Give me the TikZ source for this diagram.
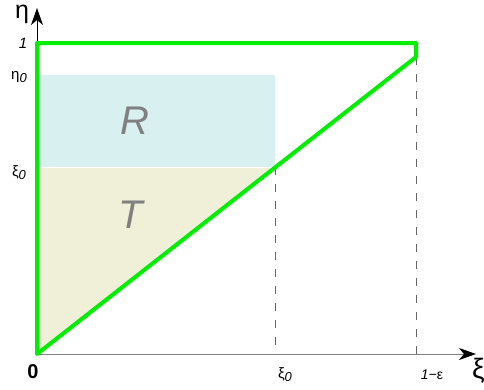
\documentclass[tikz,border=0pt]{standalone}
\usepackage{fontspec}
\setmainfont{Liberation Sans}
\usetikzlibrary{arrows.meta}
\definecolor{gr}{HTML}{00EE00}
\definecolor{rfill}{HTML}{D8F0F0}
\definecolor{tfill}{HTML}{F0F0D8}
\definecolor{axg}{HTML}{808080}
\tikzset{
  curve/.style={draw=gr, line width=4pt, line cap=round, line join=round},
  guide/.style={draw=axg!80!black, line width=0.8pt, dash pattern=on 8pt off 9pt},
  axisline/.style={line width=1pt, -{Stealth[length=17pt,width=12pt,inset=5pt,color=black]}},
  lbl/.style={inner sep=0pt, font=\fontsize{15}{17}\selectfont\itshape},
  big/.style={inner sep=0pt, font=\fontsize{40}{44}\selectfont\itshape, text=axg}
}
\newcommand{\subz}{\raisebox{-0.4ex}{\itshape\fontsize{13}{15}\selectfont 0}}
\begin{document}
\begin{tikzpicture}[x=1pt,y=-1pt]
\useasboundingbox (0,0) rectangle (484,389);
\coordinate (O) at (37,354);
\coordinate (A) at (37,43);
\coordinate (B) at (416,43);
\coordinate (C) at (416,57);
\coordinate (P) at (275,167);
\coordinate (Q) at (37,167);
\coordinate (R2) at (275,75);
\coordinate (X0) at (275,354);
\coordinate (X1) at (416,354);
\coordinate (XE) at (476,354);
\coordinate (YE) at (37,8);
% regions
\fill[rfill] (Q) rectangle (R2);
\fill[tfill] (O) -- (P) -- (Q) -- cycle;
\draw[white, line width=1pt] (Q) -- (P);
% dashed guides
\draw[guide] (P) -- (X0);
\draw[guide] (C) -- (X1);
% axes
\draw[axisline, axg] (O) -- (XE);
\draw[axisline] (O) -- (YE);
% green curve
\draw[curve] (O) -- (A) -- (B) -- (C) -- cycle;
% labels
\node[big] (lR) at (135,121) {R};
\node[big] (lT) at (131,215) {T};
\node[lbl] (l1) at (23,43) {1};
\node[lbl] (leta0) at (19,77) {\upshape η\subz};
\node[lbl] (lxi0) at (19,173) {\upshape ξ\subz};
\node[inner sep=0pt, font=\fontsize{20}{22}\selectfont\bfseries] (l0) at (33,372) {0};
\node[lbl] (lxb) at (285,375) {\upshape ξ\subz};
\node[inner sep=0pt, font=\fontsize{14}{16}\selectfont\itshape] (leps) at (432,375) {1\raisebox{0.1ex}{−}\upshape ε};
\node[inner sep=0pt, font=\fontsize{28}{30}\selectfont, anchor=west] (lxi) at (472,371) {ξ};
\node[inner sep=0pt, font=\fontsize{25}{27}\selectfont, anchor=base] (leta) at (22,18) {η};
\end{tikzpicture}
\end{document}
